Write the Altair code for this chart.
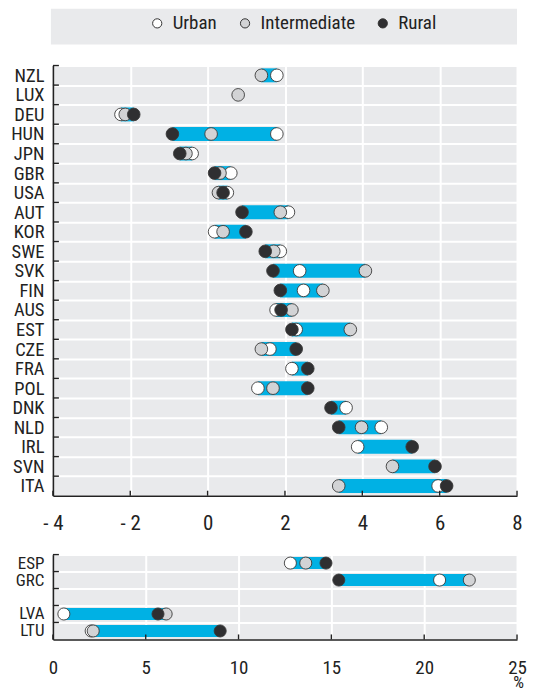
import altair as alt
import pandas as pd

FONT = "Liberation Sans Narrow, Arial Narrow, Roboto Condensed, sans-serif"
TXT = "#222222"
BLUE = "#00b1e4"
BG = "#e9eaec"

types = ["Urban", "Intermediate", "Rural"]
type_colors = ["#ffffff", "#d2d3d5", "#2f2f31"]

countries = ["NZL", "LUX", "DEU", "HUN", "JPN", "GBR", "USA", "AUT", "KOR", "SWE", "SVK",
             "FIN", "AUS", "EST", "CZE", "FRA", "POL", "DNK", "NLD", "IRL", "SVN", "ITA"]
urban = [1.79, None, -2.24, 1.79, -0.40, 0.60, 0.51, 2.09, 0.18, 1.88, 2.38,
         2.48, 1.77, 2.29, 1.61, 2.18, 1.30, 3.58, 4.49, 3.88, None, 5.96]
intermediate = [1.39, 0.79, -2.13, 0.09, -0.56, 0.32, 0.28, 1.88, 0.40, 1.71, 4.08,
                2.98, 2.18, 3.69, 1.39, None, 1.69, None, 3.98, None, 4.78, 3.39]
rural = [None, None, -1.91, -0.91, -0.72, 0.18, 0.40, 0.89, 0.99, 1.49, 1.69,
         1.88, 1.90, 2.18, 2.29, 2.59, 2.59, 3.19, 3.39, 5.29, 5.88, 6.18]
top_ticks = [-4, -2, 0, 2, 4, 6, 8]

bottom_rows = ["ESP", "GRC", " ", "LVA", "LTU"]
bottom_countries = ["ESP", "GRC", "LVA", "LTU"]
b_urban = [12.79, 20.83, 0.59, 2.06]
b_intermediate = [13.62, 22.43, 6.10, 2.17]
b_rural = [14.71, 15.40, 5.66, 9.01]
bottom_ticks = [0, 5, 10, 15, 20, 25]

W = 465
H_TOP = 431
H_BOT = 85


def long_df(cs, u, i, r):
    rows = []
    for t, vals in zip(types, (u, i, r)):
        for c, v in zip(cs, vals):
            if v is not None:
                rows.append({"country": c, "type": t, "value": v})
    return pd.DataFrame(rows)


top_df = long_df(countries, urban, intermediate, rural)
bot_df = long_df(bottom_countries, b_urban, b_intermediate, b_rural)


def make_panel(df, rows, ticks, dom, height, ylab, xlab, xpad, bar_size, pt_size,
               legend, title=None, label_expr=None):
    yscale = alt.Scale(domain=rows, paddingInner=0, paddingOuter=0)
    yaxis = alt.Axis(title=None, tickBand="extent", ticks=False, labelPadding=9,
                     labelFontSize=ylab, labelFont=FONT, labelColor=TXT,
                     domainColor=TXT, domainWidth=1.6, grid=True,
                     gridColor="white", gridWidth=2)
    xscale = alt.Scale(domain=dom, nice=False, zero=False)
    axargs = dict(values=ticks, ticks=False, tickSize=0, labelPadding=xpad,
                  labelFontSize=xlab, labelFont=FONT, labelColor=TXT,
                  labelFlush=False,
                  domainColor=TXT, domainWidth=1.6, grid=True,
                  gridColor="white", gridWidth=2)
    if label_expr:
        axargs["labelExpr"] = label_expr
    if title:
        axargs.update(title=title, titleX=W + 1, titleY=43, titleAlign="center",
                      titleBaseline="middle", titleFontSize=17,
                      titleFontWeight="normal", titleFont=FONT, titleColor=TXT)
    else:
        axargs["title"] = None
    xaxis = alt.Axis(**axargs)

    y = alt.Y("country:N", scale=yscale, axis=yaxis, sort=rows)
    x = alt.X("value:Q", scale=xscale, axis=xaxis)

    bars = alt.Chart(df).mark_bar(size=bar_size, color=BLUE).encode(
        y=y,
        x=alt.X("min(value):Q", scale=xscale, axis=xaxis),
        x2="max(value)",
    )
    pts = alt.Chart(df).mark_circle(size=pt_size, stroke="#3a3a3a",
                                    strokeWidth=0.9, opacity=1).encode(
        y=y, x=x,
        fill=alt.Fill("type:N", scale=alt.Scale(domain=types, range=type_colors),
                      legend=legend),
    )
    ytick = alt.Chart(pd.DataFrame({"country": rows})).mark_rule(
        color=TXT, strokeWidth=1.4).encode(
        y=alt.Y("country:N", scale=yscale, axis=yaxis, sort=rows, bandPosition=0),
        x=alt.value(0), x2=alt.value(6),
    )
    xtick = alt.Chart(pd.DataFrame({"value": ticks})).mark_rule(
        color=TXT, strokeWidth=1.4).encode(
        x=x, y=alt.value(height), y2=alt.value(height - 5),
    )
    return [bars, pts, ytick, xtick]


legend = alt.Legend(title=None, orient="none", legendX=95, legendY=-52,
                    direction="horizontal", labelFontSize=19, labelFont=FONT,
                    labelColor=TXT, symbolSize=85, symbolType="circle",
                    symbolStrokeColor="#333333", symbolStrokeWidth=1,
                    columnPadding=18, labelOffset=6, padding=0)

box = alt.Chart(pd.DataFrame({"a": [0]})).mark_rect(color=BG).encode(
    x=alt.value(-2), x2=alt.value(W), y=alt.value(-57), y2=alt.value(-21))

top_layers = make_panel(top_df, countries, top_ticks, [-4, 8], H_TOP, 18.5, 21, 17,
                        14, 160, legend,
                        label_expr="datum.value < 0 ? '- ' + abs(datum.value) : datum.label")
top = alt.layer(box, *top_layers).properties(width=W, height=H_TOP)

bot_layers = make_panel(bot_df, bottom_rows, bottom_ticks, [0, 25], H_BOT, 17, 19, 19,
                        12, 146, None, title="%")
bottom = alt.layer(*bot_layers).properties(width=W, height=H_BOT)

chart = alt.vconcat(top, bottom, spacing=59, bounds="flush").resolve_scale(
    fill="independent"
).properties(
    padding={"left": 2, "top": 0, "right": 0, "bottom": 0}
).configure_view(stroke=None, fill=BG)

chart.save("out.html", embed_options={"renderer": "svg", "actions": False})
